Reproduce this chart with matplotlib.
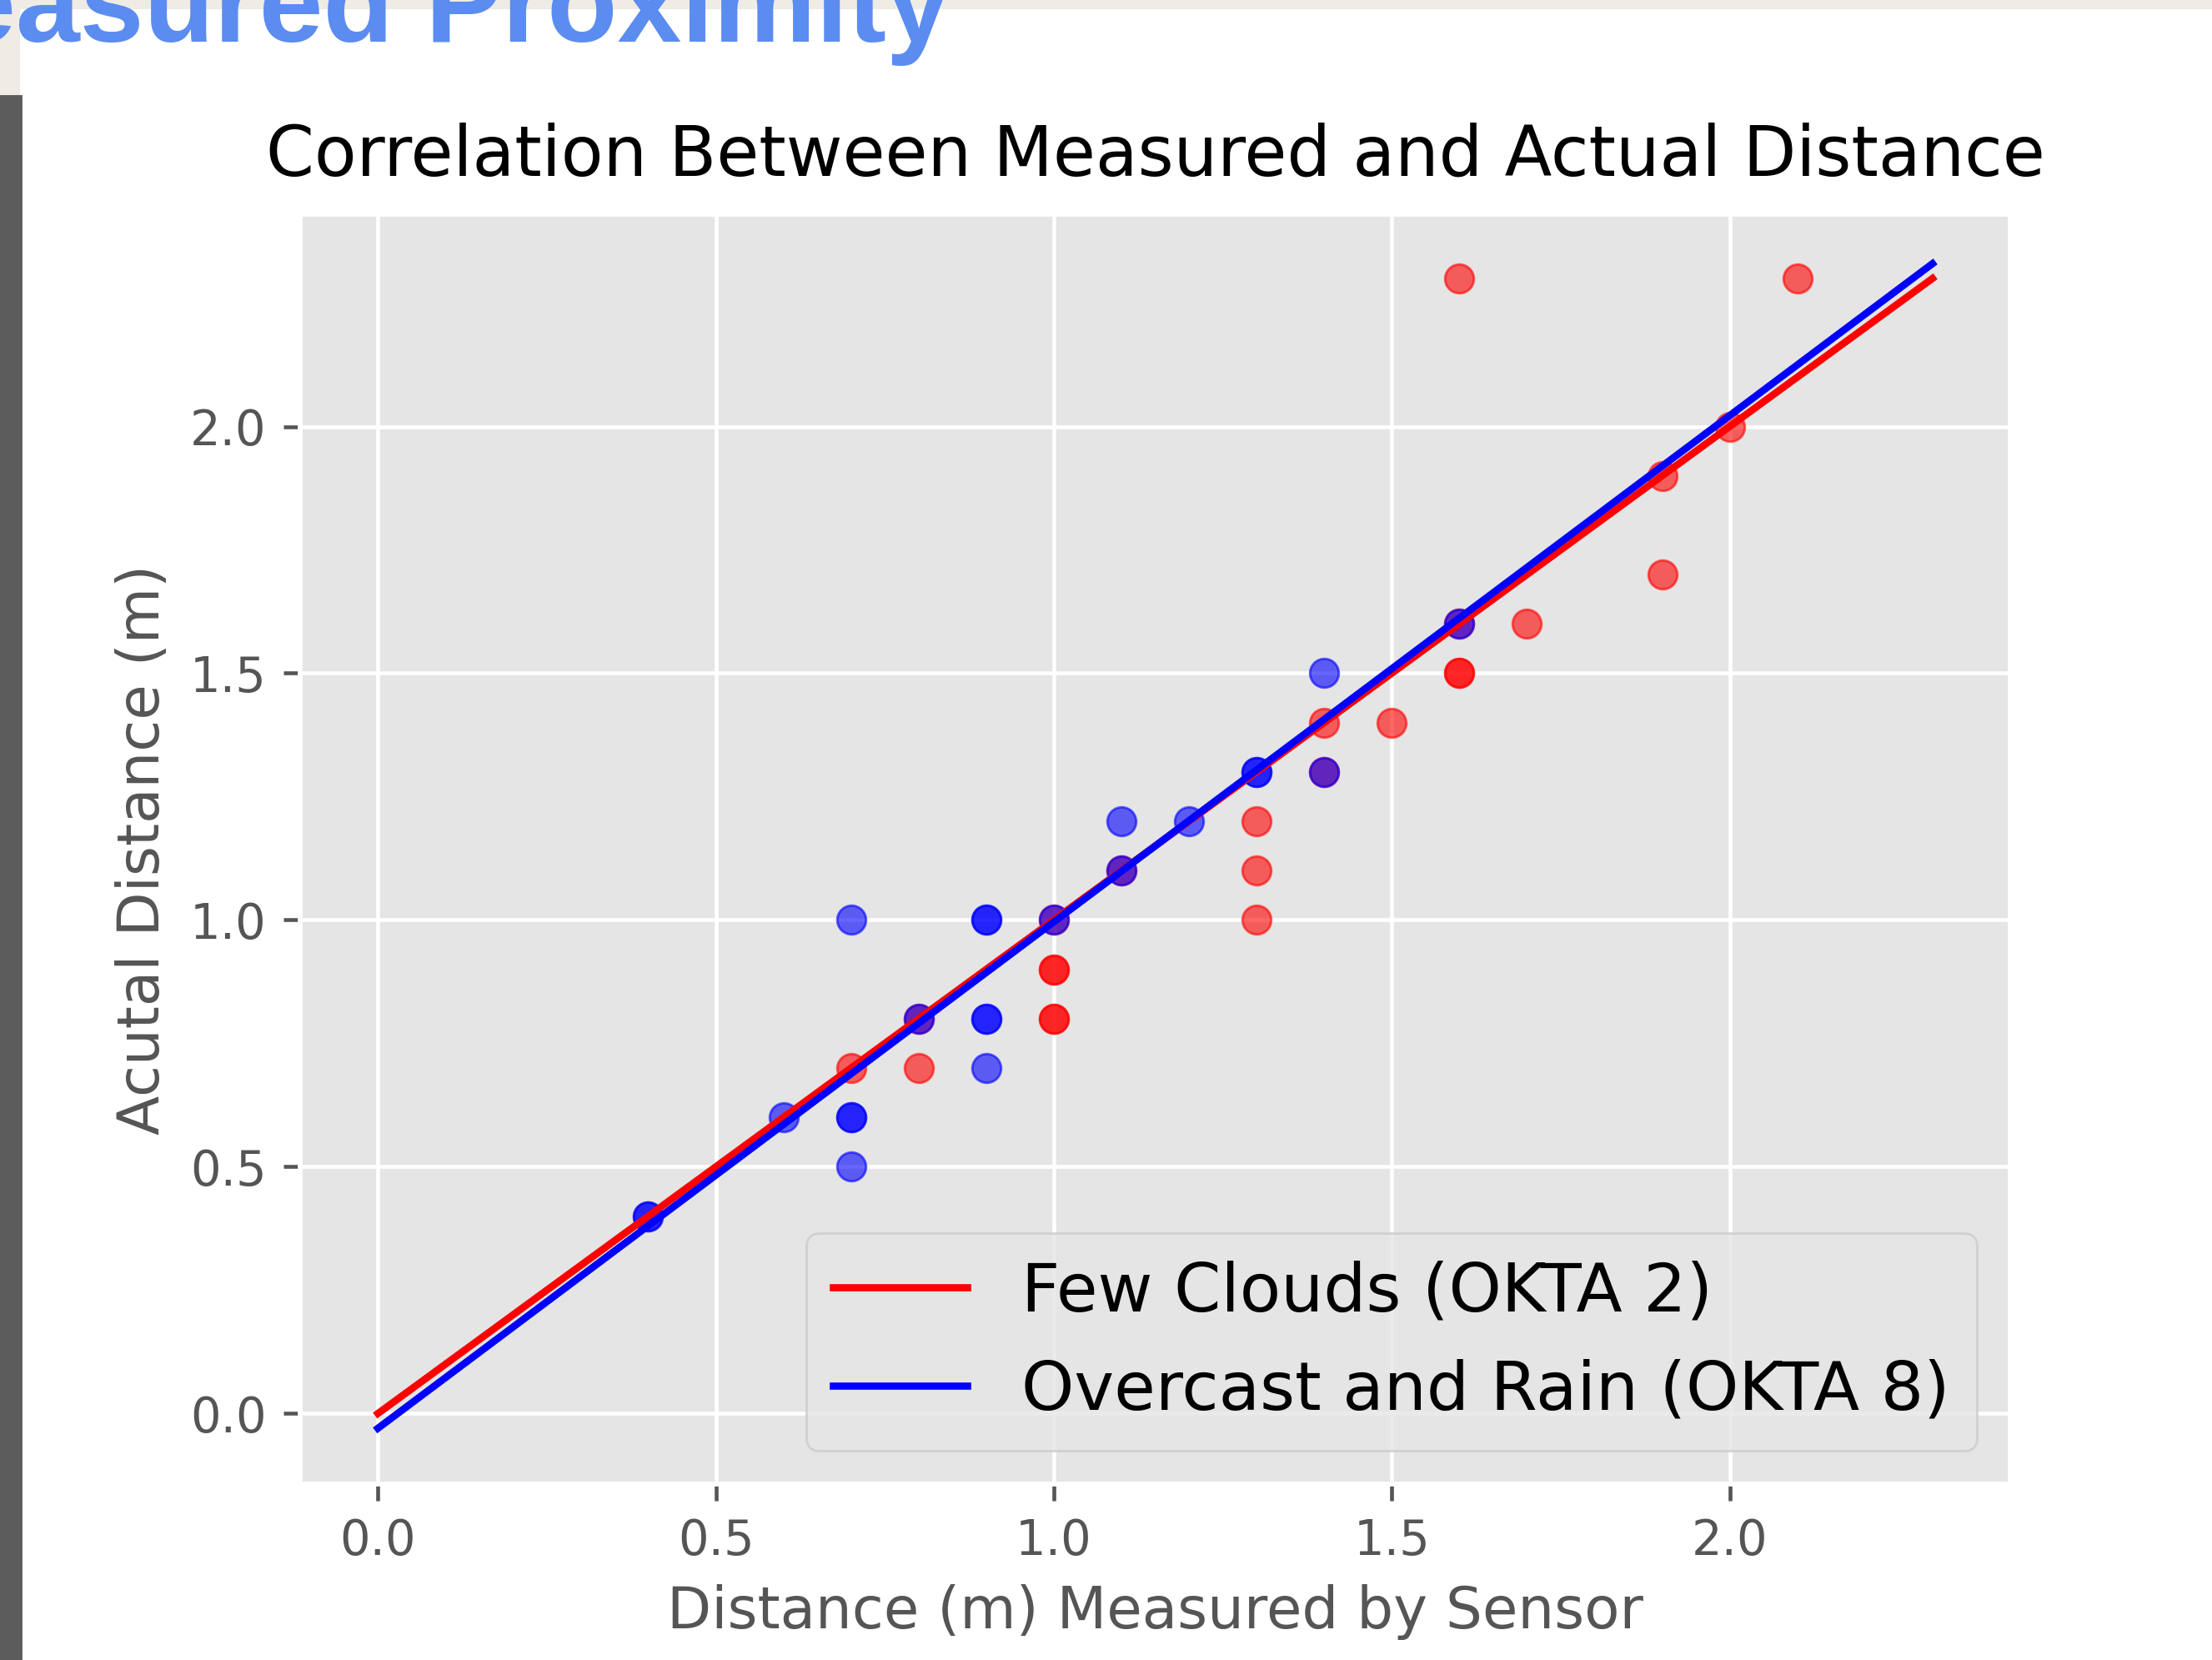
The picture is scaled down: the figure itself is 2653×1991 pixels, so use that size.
import matplotlib
matplotlib.use("Agg")
import matplotlib.pyplot as plt
from matplotlib.patches import Rectangle

# Sensor readings vs. tape-measured distance (m)
few_clouds_measured = [0.7, 0.8, 0.8, 1.0, 1.0, 1.0, 1.0, 1.0, 1.1, 1.3, 1.3, 1.3,
                       1.4, 1.4, 1.5, 1.6, 1.6, 1.6, 1.6, 1.7, 1.9, 1.9, 2.0, 2.1]
few_clouds_actual = [0.7, 0.8, 0.7, 1.0, 0.9, 0.9, 0.8, 0.8, 1.1, 1.2, 1.1, 1.0,
                     1.4, 1.3, 1.4, 2.3, 1.6, 1.5, 1.5, 1.6, 1.9, 1.7, 2.0, 2.3]

overcast_measured = [0.4, 0.4, 0.6, 0.7, 0.7, 0.7, 0.7, 0.8, 0.9, 0.9, 0.9, 0.9,
                     0.9, 1.0, 1.1, 1.1, 1.2, 1.3, 1.3, 1.4, 1.4, 1.6]
overcast_actual = [0.4, 0.4, 0.6, 1.0, 0.6, 0.6, 0.5, 0.8, 1.0, 1.0, 0.8, 0.8,
                   0.7, 1.0, 1.2, 1.1, 1.2, 1.3, 1.3, 1.5, 1.3, 1.6]

# Linear fit lines evaluated at the ends of the range
fit_x = [0.0, 2.3]
few_clouds_fit = [0.0, 2.30]
overcast_fit = [-0.03, 2.33]

labels = ["Few Clouds (OKTA 2)", "Overcast and Rain (OKTA 8)"]

plt.style.use("ggplot")

DPI = 414.5
W, H = 2653, 1991
fig = plt.figure(figsize=(W / DPI, H / DPI), dpi=DPI)
fig.patch.set_facecolor("#efebe5")

# Slide behind the figure window
bg = fig.add_axes([0, 0, 1, 1], zorder=-10)
bg.set_xlim(0, W)
bg.set_ylim(H, 0)
bg.axis("off")
bg.add_patch(Rectangle((0, 0), W, H, color="#efebe5", zorder=0))
bg.add_patch(Rectangle((25, 12), W - 25, H - 12, color="white", zorder=1))
bg.add_patch(Rectangle((0, 115), 25, H - 115, color="#5c5c5c", zorder=1))
bg.text(1140, 50, "Measured Proximity", ha="right", va="baseline",
        fontsize=24, fontweight="bold", family="Liberation Sans",
        color="#5b8cf0", zorder=3)

ax = fig.add_axes([360 / W, 1 - 1780 / H, 2051 / W, 1523 / H])

ax.scatter(few_clouds_measured, few_clouds_actual, color="red", alpha=0.6)
ax.scatter(overcast_measured, overcast_actual, color="blue", alpha=0.6)
ax.plot(fit_x, few_clouds_fit, color="red", label=labels[0])
ax.plot(fit_x, overcast_fit, color="blue", label=labels[1])

ax.set_xlim(-0.115, 2.415)
ax.set_ylim(-0.143, 2.43)
ax.set_xticks([0.0, 0.5, 1.0, 1.5, 2.0])
ax.set_yticks([0.0, 0.5, 1.0, 1.5, 2.0])

ax.set_title("Correlation Between Measured and Actual Distance", pad=8)
ax.set_xlabel("Distance (m) Measured by Sensor")
ax.set_ylabel("Acutal Distance (m)")
ax.legend(loc="lower right", fontsize=14)

fig.savefig("out.png", dpi=DPI)
